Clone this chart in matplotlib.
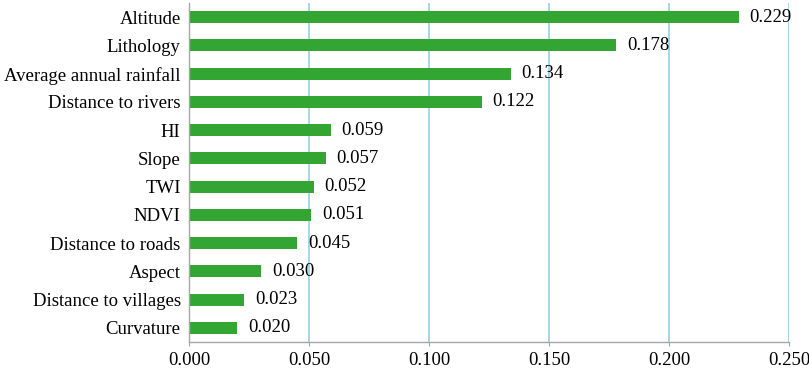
import matplotlib
matplotlib.use("Agg")
import matplotlib.pyplot as plt
import numpy as np

plt.rcParams['font.family'] = ['Liberation Serif', 'DejaVu Serif']

factors = ['Altitude', 'Lithology', 'Average annual rainfall', 'Distance to rivers',
           'HI', 'Slope', 'TWI', 'NDVI', 'Distance to roads', 'Aspect',
           'Distance to villages', 'Curvature']
importance = [0.229, 0.178, 0.134, 0.122, 0.059, 0.057, 0.052, 0.051,
              0.045, 0.030, 0.023, 0.020]
xticks = [0.000, 0.050, 0.100, 0.150, 0.200, 0.250]

fs = 13.5
fig = plt.figure(figsize=(8.09, 3.72), dpi=100)
ax = fig.add_axes([0.2336, 0.0806, 0.7416, 0.9114])

y = np.arange(len(factors))
ax.barh(y, importance, height=0.42, color='#33a532', zorder=3)
for yi, v in zip(y, importance):
    ax.text(v + 0.0045, yi, f'{v:.3f}', va='center', ha='left', fontsize=fs)

ax.set_yticks(y)
ax.set_yticklabels(factors, fontsize=fs)
ax.set_ylim(len(factors) - 0.5, -0.5)
ax.set_xlim(0, 0.25)
ax.set_xticks(xticks)
ax.set_xticklabels([f'{t:.3f}' for t in xticks], fontsize=fs)

ax.grid(axis='x', color='#8ccbe8', linewidth=1.1, zorder=0)
for s in ['top', 'right']:
    ax.spines[s].set_visible(False)
for s in ['left', 'bottom']:
    ax.spines[s].set_color('#a6a6a6')
    ax.spines[s].set_linewidth(1)
    ax.spines[s].set_zorder(4)
ax.tick_params(axis='y', length=0, pad=6)
ax.tick_params(axis='x', length=3, color='#a6a6a6', pad=4)

fig.savefig('out.png', dpi=100)
